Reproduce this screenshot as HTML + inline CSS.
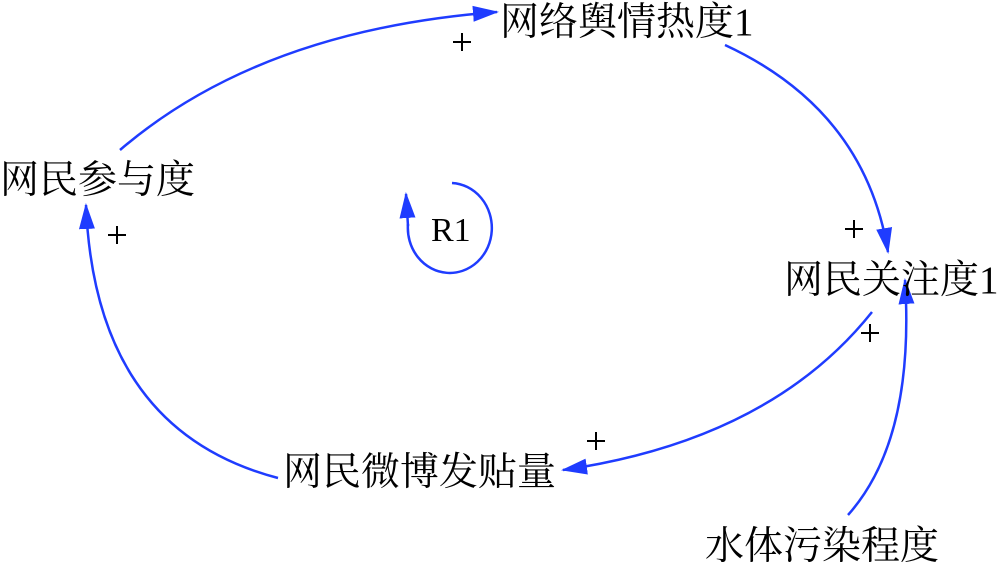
<!DOCTYPE html>
<html><head><meta charset="utf-8"><style>
html,body{margin:0;padding:0;background:#fff;}
svg{display:block;}
text{font-family:"Liberation Serif","Noto Serif CJK SC",serif;fill:#000;}
</style></head><body>
<svg width="1000" height="562" viewBox="0 0 1000 562" xmlns="http://www.w3.org/2000/svg">
<defs>
<marker id="b" markerWidth="26" markerHeight="20" refX="24" refY="10" orient="auto" markerUnits="userSpaceOnUse" viewBox="0 0 26 20">
<path d="M0,2 L26,10 L0,18 Z" fill="#1f3cff"/>
</marker>
</defs>
<g fill="none" stroke="#1f3cff" stroke-width="2.5">
<path d="M120,150 Q260,30 497,12" marker-end="url(#b)"/>
<path d="M725,45 Q865,110 888,252" marker-end="url(#b)"/>
<path d="M872,312 Q770,440 563,470" marker-end="url(#b)"/>
<path d="M278,478 Q95,430 86,205" marker-end="url(#b)"/>
<path d="M848,515 Q915,440 905,280" marker-end="url(#b)"/>
<path d="M452,183 A42,45 0 1 1 408,224" />
<path d="M408,226 L406,194" marker-end="url(#b)"/>
</g>
<g font-size="39">
<text x="500" y="35">网络舆情热度1</text>
<text x="0" y="193">网民参与度</text>
<text x="784" y="293">网民关注度1</text>
<text x="283" y="485">网民微博发贴量</text>
<text x="705" y="559">水体污染程度</text>
</g>
<text x="431" y="241" font-size="34">R1</text>
<g stroke="#000" stroke-width="2" fill="none">
<path d="M453,42 h18 M462,33 v18"/>
<path d="M108,235 h18 M117,226 v18"/>
<path d="M845,229 h18 M854,220 v18"/>
<path d="M861,333 h18 M870,324 v18"/>
<path d="M587,441 h18 M596,432 v18"/>
</g>
</svg>
</body></html>
